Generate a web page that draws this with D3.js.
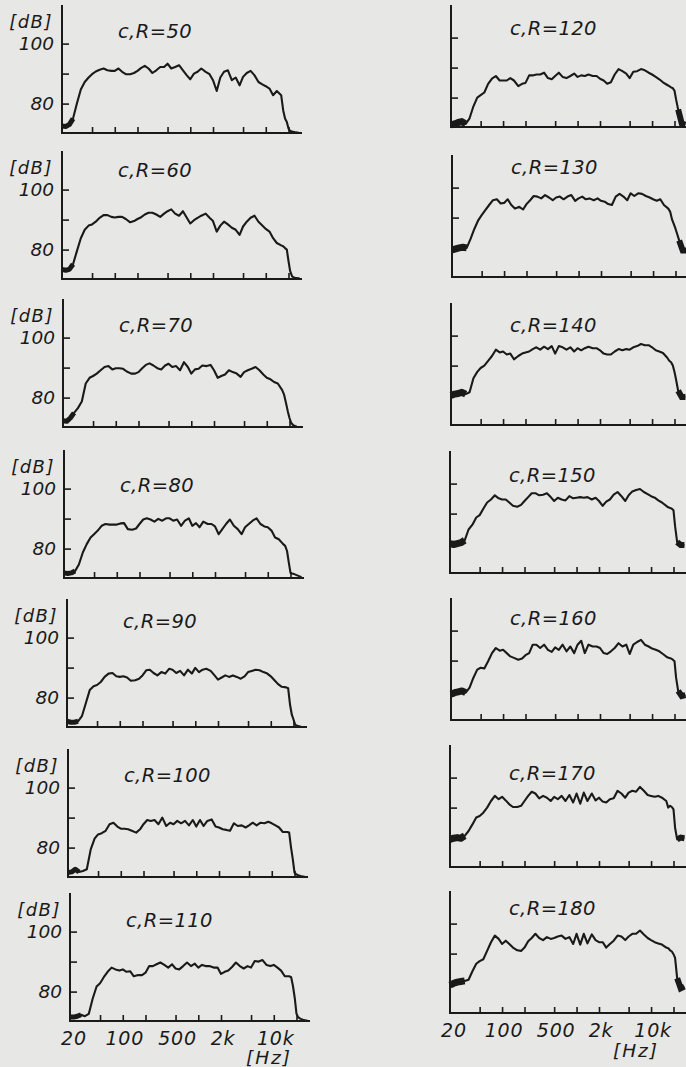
<!DOCTYPE html>
<html><head><meta charset="utf-8">
<script src="https://cdn.jsdelivr.net/npm/d3@7"></script>
<style>
html,body{margin:0;padding:0;background:#e7e7e5;}
svg{display:block;}
text{font-family:"DejaVu Sans",sans-serif;font-style:italic;fill:#1a1a1a;}
</style></head><body>
<svg id="c" width="686" height="1067"></svg>
<script>
// frequency grid (Hz)
const freqs = [20,22.4,25,28,31.5,35.5,40,45,50,56,63,71,80,90,100,112,125,140,160,180,200,224,250,280,315,355,400,450,500,560,630,710,800,900,1000,1120,1250,1400,1600,1800,2000,2240,2500,2800,3150,3550,4000,4500,5000,5600,6300,7100,8000,9000,10000,11200,12500,14000,16000,17000,18000,19000,20000,21000,22400,25000,28000];

const rValues = [50,60,70,80,90,100,110,120,130,140,150,160,170,180];

// sound pressure level [dB]
const db50 = [72.5,72.4,73,75,80,84.7,87.2,88.7,89.8,90.7, 91.3,91.7,91.1,90.9,90.9,91.7,90.6,89.8,89.8,90.2, 90.9,91.9,92.6,91.7,90.2,91.1,92.2,92.2,93.3,91.7, 92.2,92.8,91.1,89.4,88.1,90,90.6,91.7,90.6,89.8, 87.8,84.2,88.7,90.6,91.1,87.8,88.7,86.1,88.9,90.2, 90.9,89.4,87.2,86.4,85.8,85,82.8,84.2,82.8,77.8, 75,73.9,71.7,70.9,70.7,70.4,70.2];
const db60 = [73.4,73.1,73.4,75.1,79.5,83.8,86.6,88,88.4,89.3, 90.6,91.5,91.5,90.9,90.7,90.9,90.9,90.2,89.1,89.5, 90.2,90.8,91.7,92.3,92.3,91.7,90.9,92,92.8,93.4, 92,91.3,92.8,90.6,88.7,89.8,90.6,91.3,92,90.6, 89.5,86,88,89.3,88.4,87.3,86.6,84.9,87.7,89.3, 90.6,91.3,89.3,88,86.9,86,83.8,82.2,81.4,81.1, 80.5,80,76.2,72.9,71,70.5,70.4];
const db70 = [72.3,72.1,73.2,74.9,76.5,78.7,84.7,86.6,87.2,88, 89.1,90.2,90.5,89.4,89.8,89.8,89.6,88.7,88,88, 88.5,89.8,90.9,91.4,90.7,89.8,89.4,90.7,91.3,90.2, 90.5,89.1,91.8,90.2,88,89.4,89.6,90.7,90.5,90.9, 89.1,86.6,87.2,87.7,89.1,88.5,88,86.9,88.5,89.1, 89.6,90.2,89.1,87.7,86.6,86.1,85.2,84.7,82.5,80.9, 78.1,75.4,73.2,71.6,70.8,70.3,70.2];
const db80 = [71.9,71.7,71.9,72.5,74.7,78.7,81.5,83.7,84.8,86, 87.6,88.2,88,88,88,88.4,88.5,86.5,86.3,86.7, 88.2,89.7,90.1,89.7,89,89.9,89.3,90.1,90.1,89.3, 89.7,87.6,89.3,90.1,87.6,88.5,87.1,89,88.2,88.2, 87.4,84.8,86.5,88.2,89.7,87.6,86.5,84.8,87.1,88.2, 89.3,90.1,88.2,87.4,87.1,86,83.7,83.1,81.5,80.9, 79.2,75.3,71.9,71.7,71.5,71,70.5];
const db90 = [72.1,71.8,71.8,72.1,73.8,78.1,82.5,83.8,84.2,85.2, 86.9,88,88.2,87.1,86.9,87.1,86.7,85.6,85.8,86.3, 87.4,89.1,89.3,88.2,87.4,88.5,88,89.6,89.3,88.2, 88.9,87.4,89.3,88,89.9,88.5,89.3,89.6,88.9,87.4, 86,86.7,87.4,86.9,87.4,86.9,86.3,87.1,88.5,88.9, 89.3,89.1,88.5,88,87.1,85.8,84.5,83.6,83.4,83.1, 77.6,74.3,72.7,71,70.6,70.3,70.2];
const db100 = [71.7,71.9,72.8,71.9,72.2,72.8,79.4,83,84.4,84.8, 85.6,87.8,88.3,87,86.3,86.3,86.1,85.6,85,86.1, 87.8,89.2,88.9,89.2,87.8,90,87.2,88.3,87.8,88.9, 88.1,88.9,87.4,89.2,87,89.2,87.2,88.9,89.4,87, 86.7,86.1,85.9,85.6,88.1,87.2,87.4,86.7,87.4,88.3, 87.4,88.3,88.1,88.6,88.1,87.4,86.7,85.2,85.2,85, 80,76.1,71.7,71.1,70.8,70.4,70.2];
const db110 = [71.5,71.5,71.8,72.3,71.8,72.6,77.7,81.7,82.8,84.8, 86.6,88,87.4,87,87.4,86.6,86.8,85.1,85.5,85.5, 86.3,88.5,88.5,89.1,89.7,88.9,88,89.1,87.7,87.4, 88.5,89.7,88.5,89.3,88,88.9,88.5,88.5,88,88, 85.9,86.6,87,88.2,89.7,88.5,87.7,88.5,88,90.2, 90,90.5,88.9,88.5,88.9,88,87,85.1,85.1,84.8, 81.7,77.7,72.6,71.5,71,70.5,70.3];
const db120 = [70.9,71.2,71.7,72,71.2,73.1,77.1,80,80.8,81.7, 84.6,86.3,87.2,85.7,85.7,85.7,86.5,85.7,83.8,84.6, 84.9,87.4,87.4,87.7,87.7,88.3,86.5,86.1,87.2,88.3, 86.9,86.5,87.2,88,86.9,87.4,87.2,87.7,87.2,87.2, 86.3,85.7,84.6,85.1,87.7,89.5,88.8,88,86.5,88.6, 88.8,89.5,89.1,88.3,87.7,86.9,86.1,85.1,84.2,83.8, 83.4,83.1,82.3,79.4,76,71.4,71];
const db130 = [79.2,79.6,79.9,80.1,79.9,82.9,86.3,89.1,90.8,92.5, 94.2,95.8,96.1,94.7,94.9,96.1,94.2,93,93.6,92.7, 94.5,95.8,97.2,97,96.4,97.5,96.7,95.8,96.7,97, 96.1,97,97.5,95.6,96.4,97,96.1,96.4,95.8,96.4, 95.6,95.3,94.5,94.2,97,97.9,97,95.8,98.1,97.2, 98.1,97.9,97.2,96.7,96.1,95.6,96.1,94.2,93,91.9, 89.3,87.8,86.3,84.6,82.4,79,79];
const db140 = [80,80.5,80.7,81.1,80.5,81.1,85.8,87.9,89.2,90, 91.6,93.2,95.3,94.4,94.7,93.7,94,92.1,93.2,94, 94.4,94.7,95.5,96.1,95.3,96.3,95.5,96.5,94,96.5, 96.1,95.3,96.1,94.7,95.8,95.1,95.8,96.3,95.8,95.8, 95.1,94,93.7,93.7,94.7,95.5,95.1,95.5,95.3,96.1, 96.5,97.2,96.8,96.8,96.1,95.1,94.7,94.2,92.6,91.6, 91.1,90,87.9,85.3,81.6,79.5,79.5];
const db150 = [80,79.7,80,80.3,81.1,84.7,86.3,88.7,89.5,91.6, 93.7,94.7,96.1,95.1,94.7,94.7,93.7,92.6,92.3,92.9, 94.2,95.5,96.8,96.8,96.1,96.3,96.8,95.5,94.2,95.3, 94.7,94.4,95.8,95.1,95.3,95.5,95.3,95.5,94.7,95.3, 94.2,92.6,94,94.7,96.3,97.2,95.8,94.2,96.1,97.4, 97.9,98.2,97.2,96.5,95.8,95.3,94.4,93.7,92.6,92.1, 91.9,91.6,91.1,85.8,80.5,79.5,79.5];
const db160 = [78.8,79.3,79.6,79.9,79.3,81,84.3,87,87.6,87.4, 89.8,92.5,94.2,93.3,93.6,92.5,91.4,90.9,90.3,90.7, 91.8,92.5,95.3,95.3,94.2,95.3,93.6,92.9,94.4,93.6, 95.3,93.1,94.7,92.5,95.3,96.6,92.5,95.3,94.7,94.7, 94.2,92.5,92.2,93.1,94.2,95.8,94.7,95.3,92.2,95.3, 96.2,96.9,95.3,94.7,94,93.6,93.1,92.2,91.1,90.9, 90.7,90.3,89.8,84.3,79.9,78.2,78.5];
const db170 = [79.4,79.8,80,79.8,80.6,82.2,84.4,86.7,87.2,88.3, 90,92.2,93.9,92.8,93.6,92.4,91.1,90.2,90.2,90.6, 92.2,93.9,95.3,94.7,93.1,93.9,93.3,92.2,93.6,92.8, 93.9,92.2,94.2,91.7,94.7,91.3,95,92.2,94.7,92.4, 93.3,92,91.7,92.8,93.1,95.6,94.7,93.3,95,95.6, 95.3,96.9,95.6,94.2,93.9,93.6,93.9,93.3,92.2,90, 90.6,90.2,89.4,83.3,79.4,80,79.8];
const db180 = [79.5,80.1,80.5,80.7,80.9,81.3,84.1,86.6,87.5,88.1, 90.9,93.8,96,94.9,93.2,94.3,93.2,92,91.1,90.9, 92,94.1,95.2,96.6,95.2,94.5,95.5,94.9,95.2,95.7, 96,94.9,95.5,93.2,96.6,93,96.6,93.4,96.4,94.5, 93.8,93.8,92,93.2,94.3,96,95.7,94.5,95.7,96.6, 96.6,97.7,96.4,95.2,94.5,93.8,93.4,93,92,91.8, 91.1,90.7,89.8,88.6,81.8,78.4,79];

const series = [db50,db60,db70,db80,db90,db100,db110,db120,db130,db140,db150,db160,db170,db180];

const yTicks = [80, 90, 100];
const yTickLabels = [["100", 100], ["80", 80]];
const xTicks = [50,100,200,500,1000,2000,5000,10000,20000];
const xLabelValues = [20,100,500,2000,10000];
const xLabels = ["20","100","500","2k","10k"];

// layout of the 14 small panels (x of 20 Hz, y of baseline, title offset)
const layout = [
  {col:0,x0:62,base:133,tdy:95},
  {col:0,x0:62,base:279,tdy:102},
  {col:0,x0:63,base:427,tdy:95},
  {col:0,x0:64,base:578,tdy:86},
  {col:0,x0:67,base:727,tdy:99},
  {col:0,x0:68,base:877,tdy:95},
  {col:0,x0:70,base:1021,tdy:94},
  {col:1,x0:451,base:127,tdy:92},
  {col:1,x0:452,base:277,tdy:103},
  {col:1,x0:451,base:425,tdy:93},
  {col:1,x0:450,base:573,tdy:91},
  {col:1,x0:451,base:720,tdy:95},
  {col:1,x0:450,base:867,tdy:87},
  {col:1,x0:450,base:1013,tdy:98}
];

const ink = "#1a1a1a";
const svg = d3.select("#c");

series.forEach((vals, k) => {
  const L = layout[k];
  const right = L.col === 1;
  const x = d3.scaleLog().domain([20, 20000]).range([0, right ? 223.5 : 226.5]);
  const y = d3.scaleLinear().domain([70.2, 113]).range([0, -128.4]);
  const g = svg.append("g").attr("transform", `translate(${L.x0},${L.base})`);
  const axisH = right ? 122 : 128;
  const axisW = right ? 250 : 240;

  // x axis ticks (pointing up)
  const gx = g.append("g").call(d3.axisBottom(x).tickValues(xTicks).tickSize(-6).tickFormat(""));
  gx.select(".domain").remove();
  gx.selectAll("line").attr("stroke", ink).attr("stroke-width", 1.6);
  // y axis ticks (pointing right)
  const gy = g.append("g").call(d3.axisLeft(y).tickValues(yTicks).tickSize(-7).tickFormat(""));
  gy.select(".domain").remove();
  gy.selectAll("line").attr("stroke", ink).attr("stroke-width", 1.6);

  g.append("line").attr("x1", -1).attr("x2", axisW).attr("y1", 0).attr("y2", 0)
    .attr("stroke", ink).attr("stroke-width", 2);
  g.append("line").attr("x1", 0).attr("x2", 0).attr("y1", 1).attr("y2", -axisH)
    .attr("stroke", ink).attr("stroke-width", 2);

  const pts = freqs.map((f, i) => [f, vals[i]]);
  const line = d3.line().x(d => x(d[0])).y(d => y(d[1]));
  // noisy low-frequency band
  g.append("path").attr("d", line(pts.slice(0, right ? 5 : 4)))
    .attr("fill", "none").attr("stroke", ink).attr("stroke-width", right ? 7 : 5)
    .attr("stroke-linejoin", "round");
  if (right) {
    g.append("path").attr("d", line(pts.slice(64)))
      .attr("fill", "none").attr("stroke", ink).attr("stroke-width", 6);
  }
  g.append("path").attr("d", line(pts))
    .attr("fill", "none").attr("stroke", ink).attr("stroke-width", 2.1)
    .attr("stroke-linejoin", "round");

  // title
  g.append("text").attr("x", right ? 59 : 56).attr("y", -L.tdy)
    .attr("font-size", 19.5).attr("letter-spacing", 0.4)
    .text(`c,R=${rValues[k]}`);

  if (!right) {
    g.append("text").attr("x", -9).attr("y", -105).attr("text-anchor", "end")
      .attr("font-size", 18).attr("letter-spacing", 1.5).text("[dB]");
    yTickLabels.forEach(([t, v]) => {
      g.append("text").attr("x", -8).attr("y", y(v) + 6.5).attr("text-anchor", "end")
        .attr("font-size", 18.5).text(t);
    });
  }

  if (k === 6 || k === 13) {
    xLabelValues.forEach((v, i) => {
      g.append("text").attr("x", x(v) + (i === 0 ? 4 : 2)).attr("y", 24)
        .attr("text-anchor", "middle").attr("font-size", 19).attr("letter-spacing", 0.8)
        .text(xLabels[i]);
    });
    g.append("text").attr("x", right ? 186 : 199).attr("y", right ? 44 : 43)
      .attr("text-anchor", "middle").attr("font-size", 18.5).attr("letter-spacing", 2)
      .text("[Hz]");
  }
});
</script>
</body></html>
